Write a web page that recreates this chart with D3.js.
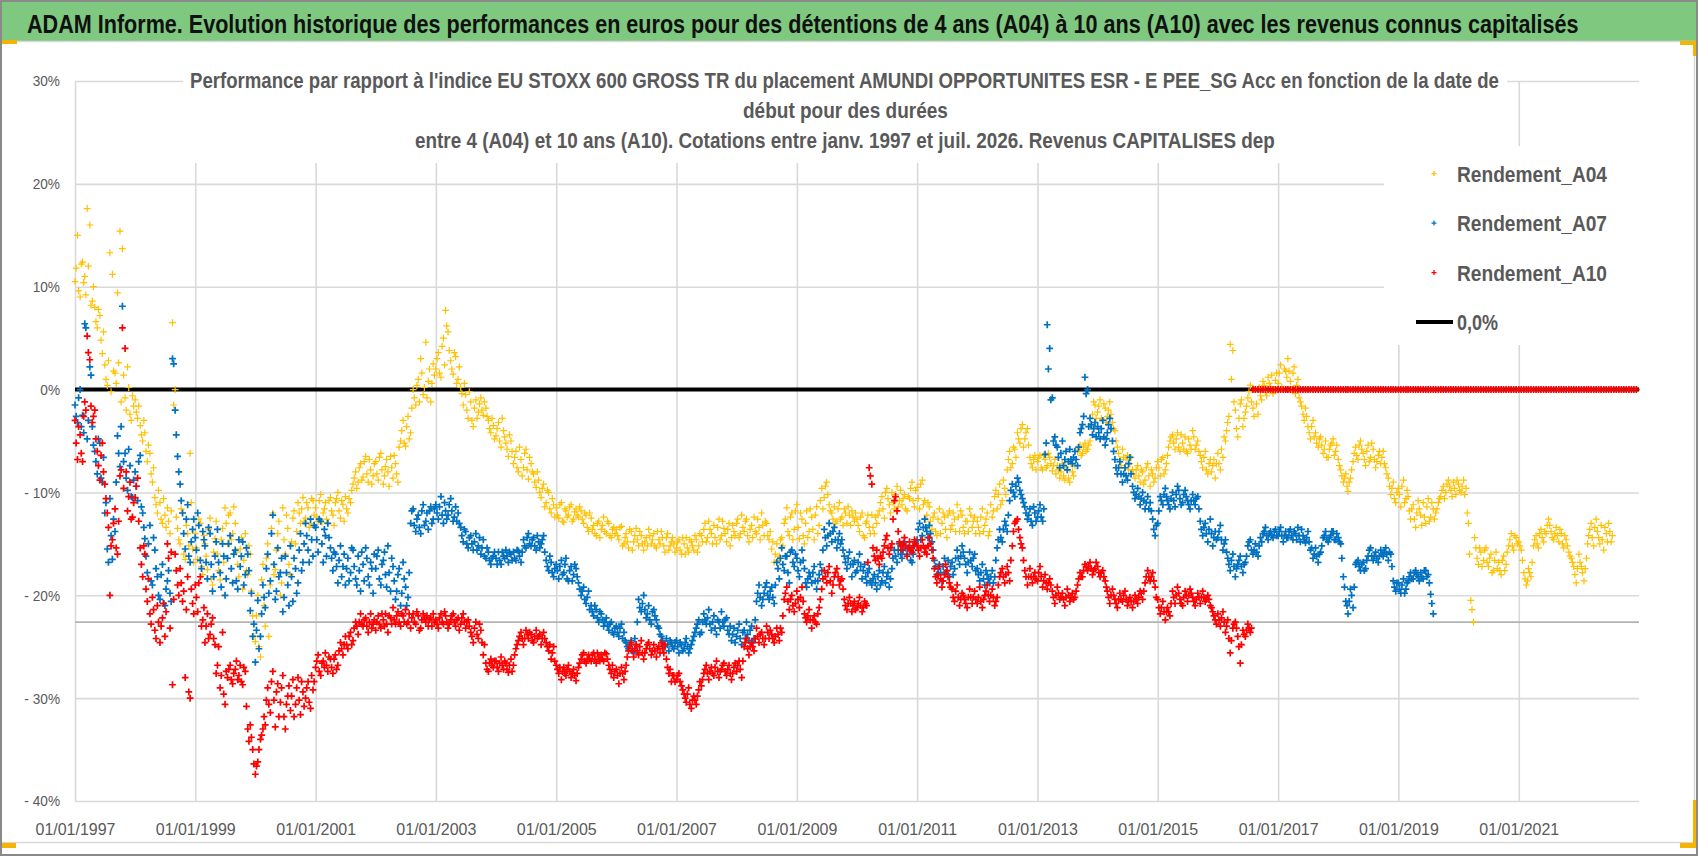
<!DOCTYPE html>
<html lang="fr">
<head>
<meta charset="utf-8">
<title>ADAM Informe</title>
<script src="https://cdn.jsdelivr.net/npm/d3@7"></script>
<style>
  html, body { margin: 0; padding: 0; background: #fff; }
  svg { display: block; }
  text { font-family: "Liberation Sans", Arial, sans-serif; }
</style>
</head>
<body>
<div id="graphique"></div>
<script>
// performances relatives (%), relevées sur le graphique depuis le 01/01/1997
// tableaux "..." : points du 1er et du 16 de chaque mois ; "...Milieu" : points du 8 et du 23
var rendementA04 = [
    10.5, 15.0, 9.0, 12.4, 11.0, 17.6, 16.0, 8.6, 8.0, 6.0, 7.2, 3.5, 2.4, 0.4, 13.3, 11.2, 1.6, 9.4, 15.4, 13.7, -0.8, 2.2, -2.4, -0.6,
    -1.0, -2.8, -3.5, -5.0, -4.2, -7.0, -6.2, -9.0, -10.5, -12.0, -11.0, -13.0, -12.2, -11.5, -14.0, 6.5, 0.0, -13.5, -15.0, -12.0, -16.5, -14.0, -6.2, -15.5,
    -14.0, -16.5, -13.0, -18.0, -15.0, -17.5, -12.5, -19.0, -14.5, -16.0, -18.5, -13.5, -11.5, -15.0, -12.0, -14.0, -13.0, -17.0, -15.5, -19.4, -14.0, -18.0, -16.0, -22.0,
    -24.5, -20.0, -26.0, -17.0, -23.0, -15.0, -19.0, -12.0, -17.5, -14.0, -20.0, -11.5, -16.0, -13.5, -18.0, -12.5, -15.0, -11.0, -13.0, -10.5, -12.5, -11.5, -13.0, -10.8,
    -11.5, -12.8, -10.2, -12.0, -11.0, -13.0, -10.5, -12.2, -11.0, -10.0, -12.5, -11.2, -10.4, -12.0, -11.0, -9.2, -8.0, -9.0, -7.2, -8.5, -6.5, -9.0, -7.8, -8.4,
    -7.0, -8.8, -6.2, -9.2, -7.5, -8.0, -6.5, -8.6, -7.2, -9.0, -5.0, -3.0, -5.5, -2.6, -4.2, 0.0, -1.5, 1.0, 3.0, -0.5, 4.6, 0.8, -1.2, 2.5,
    2.0, 3.6, 1.2, 5.0, 7.7, 5.6, 2.8, 1.5, 3.2, 1.0, 0.2, -1.5, -0.5, -2.8, -1.2, -3.6, -1.0, -2.2, -0.8, -2.5, -1.8, -3.0, -4.2, -3.5,
    -4.5, -3.2, -5.6, -4.0, -5.2, -6.5, -5.0, -7.2, -6.0, -8.0, -6.8, -7.6, -5.8, -8.7, -7.2, -8.2, -9.5, -8.8, -10.5, -9.2, -11.0, -10.0, -12.0, -11.2,
    -11.5, -12.5, -11.0, -12.9, -11.8, -12.2, -11.2, -12.6, -11.6, -12.4, -11.8, -13.0, -12.2, -13.8, -12.5, -13.2, -14.2, -12.8, -13.6, -12.4, -14.0, -13.0, -14.4, -13.4,
    -13.6, -14.6, -13.3, -15.0, -14.0, -15.4, -13.8, -14.8, -13.5, -15.2, -14.2, -15.6, -14.4, -13.6, -15.0, -14.0, -15.4, -14.6, -13.8, -15.2, -14.4, -15.6, -14.8, -15.0,
    -15.4, -14.6, -16.0, -15.0, -14.4, -15.8, -14.8, -15.6, -14.6, -15.2, -14.2, -13.6, -14.8, -12.8, -14.0, -13.2, -15.0, -12.6, -14.2, -13.5, -14.8, -13.0, -14.4, -13.8,
    -13.0, -14.4, -12.2, -13.8, -12.6, -14.8, -13.2, -12.4, -14.0, -13.4, -12.0, -14.2, -13.0, -14.6, -15.5, -16.8, -15.0, -16.2, -14.4, -13.0, -11.5, -14.2, -12.0, -13.6,
    -11.2, -14.5, -12.6, -15.0, -11.8, -13.8, -12.4, -14.6, -11.4, -13.2, -9.6, -10.5, -9.0, -11.2, -12.0, -11.4, -12.8, -11.0, -12.4, -11.6, -13.0, -12.2, -11.8, -12.8,
    -12.6, -13.8, -12.0, -14.4, -12.8, -13.4, -12.2, -14.0, -13.0, -11.8, -10.4, -12.5, -9.6, -11.2, -10.0, -11.6, -9.4, -10.8, -11.2, -10.2, -11.8, -10.6, -9.0, -11.4,
    -9.5, -11.6, -8.8, -10.8, -12.2, -11.4, -13.6, -12.0, -14.2, -11.6, -13.0, -12.4, -14.4, -11.8, -13.2, -12.6, -11.2, -13.8, -12.2, -14.0, -12.8, -11.6, -13.4, -12.4,
    -12.8, -14.0, -11.6, -13.2, -12.0, -13.8, -12.4, -10.4, -11.6, -9.2, -10.8, -9.6, -7.8, -6.0, -7.2, -5.8, -4.2, -5.2, -3.4, -4.8, -3.8, -6.6, -7.6, -6.4,
    -7.0, -6.4, -7.8, -6.8, -7.4, -6.6, -7.9, -6.8, -7.4, -8.6, -7.2, -8.8, -7.8, -9.0, -8.0, -7.4, -6.0, -5.4, -6.2, -5.2, -5.8, -5.0, -2.4, -1.5,
    -2.2, -1.0, -3.0, -1.8, -2.6, -1.2, -3.2, -4.0, -5.6, -6.8, -5.8, -7.6, -6.4, -7.2, -7.8, -8.6, -7.4, -9.0, -8.0, -8.8, -7.2, -9.4, -8.2, -8.6,
    -7.0, -8.4, -6.6, -7.8, -6.4, -5.0, -4.4, -5.8, -4.2, -6.0, -5.2, -4.6, -6.2, -5.4, -4.0, -5.8, -5.0, -6.4, -7.6, -6.0, -8.2, -6.8, -7.4, -8.6,
    -6.2, -7.8, -6.6, -5.0, -3.2, 4.4, 3.8, -2.0, -4.6, -1.4, -3.6, -2.2, -0.8, 0.4, -1.8, 0.0, -2.4, -0.6, 0.8, -0.2, 1.2, 0.2, -0.4, 0.9,
    0.6, 2.4, 0.0, 1.8, 3.0, 0.8, 1.6, -0.4, 1.0, -1.2, -2.4, -1.8, -3.6, -4.8, -3.0, -4.2, -5.6, -4.6, -6.2, -5.0, -6.6, -5.4, -4.8, -6.0,
    -6.8, -7.8, -9.0, -8.2, -9.9, -8.6, -7.0, -5.6, -6.8, -5.0, -6.2, -7.4, -5.4, -6.6, -5.8, -7.6, -6.4, -7.2, -6.0, -7.6, -8.6, -10.2, -9.0, -11.0,
    -9.6, -11.4, -8.8, -10.6, -10.4, -12.6, -11.2, -13.4, -10.8, -12.2, -11.0, -13.0, -10.6, -12.4, -11.6, -12.0, -11.0, -10.4, -9.4, -10.0, -8.8, -9.8, -9.0, -10.2,
    -9.2, -10.0, -8.8, -9.6, -13.0, -20.5, -22.6, -15.4, -17.0, -15.8, -16.6, -15.4, -17.2, -16.0, -17.6, -15.8, -16.8, -18.0, -16.2, -17.0, -15.2, -14.0, -15.6, -14.4,
    -14.8, -15.6, -17.8, -19.0, -17.4, -18.2, -15.2, -14.2, -15.4, -13.6, -14.8, -14.0, -12.6, -13.8, -14.6, -13.4, -14.8, -14.0, -15.4, -14.6, -15.8, -16.4, -17.2, -18.8,
    -16.0, -17.2, -18.6, -16.4, -14.2, -13.0, -15.2, -12.6, -14.4, -13.2, -15.6, -14.0, -13.0, -14.8
]
var rendementA04Milieu = [
    11.8, 9.6, 12.2, 10.4, 9.2, 12.0, 8.2, 10.0, 6.6, 7.8, 4.8, 5.6, 1.0, 2.8, -0.2, 1.8, 0.6, 2.6, -1.2, 1.4, -2.0, 0.2, -3.0, -1.6,
    -2.2, -1.6, -4.4, -3.0, -6.0, -5.4, -8.2, -7.6, -11.2, -9.8, -12.6, -10.6, -13.4, -12.8, -11.8, -1.5, -12.4, -14.6, -11.6, -16.0, -13.2, -15.2, -11.0, -16.8,
    -15.4, -12.6, -17.2, -14.2, -16.2, -13.6, -18.4, -15.8, -12.8, -17.6, -14.6, -16.8, -13.0, -12.2, -14.6, -11.4, -15.8, -18.2, -14.4, -16.6, -17.6, -15.2, -19.6, -24.0,
    -22.0, -25.0, -18.5, -21.0, -16.4, -24.0, -13.5, -18.0, -15.6, -12.8, -18.8, -14.6, -12.2, -17.0, -14.8, -11.8, -13.8, -12.0, -11.6, -12.8, -11.0, -13.4, -10.6, -12.2,
    -12.4, -10.8, -12.9, -11.6, -12.6, -10.8, -11.8, -13.2, -10.6, -11.8, -10.8, -12.8, -11.6, -10.6, -9.8, -8.6, -9.6, -7.6, -8.8, -7.0, -8.2, -6.8, -9.2, -7.2,
    -8.2, -6.6, -7.8, -8.4, -6.8, -9.4, -7.6, -6.4, -8.2, -5.6, -4.0, -5.2, -3.6, -4.8, -1.8, -0.8, 0.4, -1.2, 1.6, 0.2, -0.8, 2.0, 0.6, 1.4,
    3.0, 1.6, 4.2, 2.4, 6.2, 3.8, 2.0, 3.6, 0.6, 2.2, -0.4, 0.6, -2.0, -0.2, -3.0, -1.8, -2.8, -1.4, -2.0, -1.2, -2.6, -3.8, -2.8, -4.8,
    -3.8, -5.0, -2.8, -4.6, -5.8, -4.4, -6.0, -6.6, -7.6, -5.6, -8.4, -6.2, -7.8, -6.6, -8.0, -9.0, -8.0, -10.0, -9.6, -11.4, -9.8, -11.6, -10.6, -12.4,
    -12.2, -11.2, -12.8, -11.6, -12.4, -11.4, -12.8, -11.9, -12.2, -11.4, -12.6, -12.0, -13.4, -12.0, -13.6, -14.0, -13.0, -14.4, -13.2, -13.8, -12.8, -14.2, -13.6, -14.0,
    -14.2, -13.4, -15.2, -14.4, -14.8, -13.6, -15.6, -14.2, -14.6, -13.8, -15.0, -14.8, -15.2, -14.2, -14.6, -15.2, -13.8, -15.0, -14.4, -15.8, -14.0, -15.2, -14.4, -15.8,
    -14.8, -15.6, -14.4, -16.0, -15.4, -14.6, -15.2, -14.2, -15.8, -14.0, -14.8, -13.0, -14.4, -13.6, -15.0, -14.4, -13.4, -14.6, -12.8, -14.0, -13.6, -15.2, -13.2, -14.2,
    -12.6, -14.0, -13.4, -12.8, -14.2, -13.6, -14.4, -13.8, -12.6, -14.6, -13.2, -12.8, -14.2, -13.8, -14.8, -16.0, -16.6, -14.6, -15.2, -12.6, -13.8, -12.4, -14.6, -11.8,
    -13.4, -12.0, -14.2, -13.0, -14.4, -11.6, -13.6, -12.2, -14.0, -10.8, -11.6, -9.4, -10.2, -11.8, -12.6, -13.0, -11.6, -12.6, -13.2, -12.0, -11.4, -13.2, -12.4, -12.0,
    -13.2, -12.4, -14.2, -13.0, -12.2, -14.0, -13.4, -12.4, -12.2, -11.0, -11.6, -10.0, -10.6, -12.0, -11.0, -10.2, -11.4, -9.8, -10.6, -11.6, -10.4, -9.6, -10.8, -9.8,
    -10.6, -9.2, -11.2, -12.6, -11.0, -12.8, -12.4, -13.8, -12.6, -14.0, -12.0, -13.6, -12.2, -13.6, -12.0, -13.8, -12.4, -11.8, -13.4, -12.8, -13.8, -12.2, -12.8, -14.0,
    -13.4, -12.4, -13.8, -12.6, -14.2, -11.2, -11.8, -9.8, -10.2, -11.2, -8.8, -10.2, -6.8, -7.6, -5.6, -6.6, -4.8, -3.8, -5.6, -4.2, -5.4, -7.2, -6.8, -7.8,
    -6.6, -7.6, -6.4, -7.6, -6.2, -7.2, -7.4, -8.2, -7.8, -8.0, -8.4, -7.6, -8.6, -7.2, -8.4, -6.8, -5.8, -6.4, -5.6, -6.0, -5.4, -3.6, -1.2, -2.8,
    -1.6, -2.8, -1.4, -3.2, -2.0, -2.4, -3.8, -5.0, -6.2, -7.4, -6.6, -6.8, -7.8, -6.6, -8.2, -7.8, -8.4, -7.8, -9.2, -7.6, -8.4, -7.8, -9.0, -7.6,
    -7.6, -6.8, -8.2, -7.2, -5.6, -4.6, -5.2, -4.8, -5.6, -4.4, -5.8, -6.0, -4.8, -5.8, -4.6, -5.4, -6.0, -7.0, -6.6, -7.8, -7.2, -8.0, -6.8, -7.2,
    -7.2, -5.8, -4.6, -4.0, -2.6, 1.0, -1.2, -3.8, -2.8, -1.0, -2.8, -1.6, -0.2, -1.2, -2.6, -1.4, 0.2, -1.0, 0.4, -0.6, 0.6, 1.4, 0.0, 1.6,
    1.6, 0.2, 2.0, 1.2, 1.8, 0.0, 2.2, 0.4, -0.8, -1.6, -3.0, -2.6, -4.2, -3.6, -4.6, -5.2, -4.8, -5.4, -5.8, -6.6, -5.8, -5.2, -6.4, -5.4,
    -7.4, -8.4, -8.6, -9.4, -9.0, -7.8, -6.2, -6.4, -5.4, -5.8, -6.8, -6.0, -7.0, -5.2, -6.8, -7.0, -6.0, -6.6, -7.2, -8.2, -9.4, -9.6, -10.6, -10.0,
    -10.2, -9.4, -11.0, -9.8, -11.8, -11.6, -12.6, -12.0, -11.6, -13.2, -12.4, -11.4, -12.8, -11.0, -12.6, -11.6, -10.6, -9.8, -10.6, -9.2, -9.4, -10.4, -9.6, -8.8,
    -9.8, -9.4, -10.2, -12.0, -16.0, -21.4, -14.4, -16.4, -15.4, -17.2, -15.6, -16.8, -16.4, -17.8, -16.6, -17.4, -17.6, -16.6, -17.6, -15.8, -14.6, -15.2, -14.2, -15.0,
    -15.2, -16.6, -18.4, -18.6, -17.8, -16.8, -14.6, -15.0, -14.0, -14.4, -13.8, -13.2, -13.2, -14.4, -14.0, -14.2, -13.6, -15.0, -14.2, -15.2, -16.2, -16.8, -18.0, -17.4,
    -16.8, -17.8, -17.4, -15.0, -13.6, -14.4, -13.4, -13.8, -15.0, -14.6, -13.4, -14.8, -13.8, -14.2
]

var rendementA07 = [
    -1.5, -3.2, 0.0, -2.5, 6.4, -4.8, 2.2, -3.6, -6.0, -8.2, -5.2, -9.0, -12.0, -15.5, -10.6, -16.5, -13.8, -4.5, -7.5, 8.1, -6.2, -9.8, -7.4, -10.5,
    -8.0, -10.8, -6.4, -12.0, -14.5, -17.8, -13.2, -19.0, -15.6, -18.2, -20.4, -17.0, -21.0, -18.6, -19.8, 3.0, -2.0, -6.5, -9.2, -12.0, -15.5, -11.2, -16.8, -13.6,
    -14.4, -12.0, -16.6, -13.8, -15.2, -18.4, -14.0, -19.6, -16.2, -13.6, -17.8, -15.0, -20.0, -16.4, -14.2, -18.8, -15.6, -19.4, -17.2, -14.8, -18.0, -16.0, -21.5, -24.0,
    -26.5, -20.5, -24.0, -19.0, -21.2, -16.0, -18.6, -12.2, -20.4, -15.4, -17.8, -21.6, -16.2, -19.0, -15.2, -20.6, -17.4, -18.8, -14.0, -16.8, -13.0, -15.6, -12.6, -16.2,
    -13.4, -15.8, -12.8, -16.8, -14.2, -13.0, -15.4, -17.6, -16.0, -18.8, -15.2, -17.2, -19.0, -16.4, -17.8, -15.6, -18.4, -16.2, -19.6, -17.0, -15.4, -18.2, -16.8, -19.8,
    -17.4, -15.6, -19.0, -16.6, -18.0, -15.2, -19.6, -17.2, -20.4, -18.0, -21.0, -16.8, -19.2, -20.2, -13.0, -11.6, -13.8, -12.2, -14.0, -11.2, -12.8, -13.6, -11.4, -12.6,
    -11.2, -12.6, -10.4, -13.0, -11.8, -12.2, -10.6, -12.8, -11.4, -12.0, -13.4, -14.8, -13.8, -15.4, -14.2, -15.6, -14.0, -15.2, -16.0, -14.6, -16.4, -15.8, -17.0, -16.2,
    -16.4, -15.8, -17.0, -16.2, -15.6, -16.8, -16.0, -15.8, -16.6, -15.7, -16.8, -14.6, -15.4, -14.0, -15.2, -14.4, -15.6, -14.8, -15.0, -14.2, -16.6, -17.6, -16.8, -18.2,
    -17.0, -18.4, -16.6, -17.8, -16.4, -18.6, -17.2, -18.0, -17.4, -18.8, -20.0, -19.2, -20.8, -19.6, -21.0, -22.0, -21.4, -22.6, -21.8, -23.0, -22.2, -23.4, -22.6, -23.8,
    -23.0, -24.0, -22.8, -23.6, -24.6, -25.2, -24.4, -25.6, -24.8, -20.4, -21.6, -20.0, -22.2, -21.0, -22.8, -21.4, -22.4, -23.2, -24.0, -24.8, -24.2, -25.4, -24.6, -25.2,
    -24.4, -25.6, -24.8, -25.2, -24.2, -25.6, -24.8, -24.0, -23.2, -22.4, -23.6, -21.8, -22.8, -21.4, -23.4, -22.0, -23.8, -22.6, -21.6, -23.0, -22.2, -23.8, -24.4, -23.2,
    -24.0, -22.8, -24.8, -23.4, -22.6, -24.4, -23.0, -24.2, -20.6, -19.0, -21.0, -19.8, -18.8, -20.4, -19.2, -20.8, -16.8, -18.4, -15.4, -17.6, -16.2, -18.8, -15.6, -17.2,
    -16.4, -18.2, -15.6, -17.4, -19.2, -17.8, -18.8, -17.2, -19.4, -18.0, -17.6, -13.6, -15.2, -13.0, -14.8, -13.4, -15.4, -14.0, -14.6, -16.2, -17.4, -15.8, -18.2, -16.6,
    -17.6, -16.0, -18.4, -17.0, -18.8, -17.4, -19.0, -18.0, -19.4, -17.6, -18.6, -17.2, -18.2, -19.2, -17.4, -15.6, -16.8, -15.0, -16.4, -14.8, -16.0, -15.4, -16.8, -15.2,
    -14.6, -13.0, -14.2, -12.6, -13.8, -13.2, -14.8, -16.6, -18.0, -17.0, -18.6, -16.4, -17.6, -18.2, -16.8, -17.4, -15.6, -17.0, -15.2, -16.4, -17.8, -15.8, -17.2, -16.0,
    -17.4, -18.6, -17.0, -19.0, -18.0, -18.8, -17.6, -18.2, -15.4, -13.6, -14.8, -12.8, -13.8, -10.8, -9.2, -10.4, -8.6, -9.8, -10.6, -11.4, -12.6, -11.6, -13.2, -12.0,
    -12.4, -11.2, -12.8, -6.3, 6.3, 4.0, -0.8, -4.6, -5.6, -7.6, -5.0, -6.8, -7.8, -5.8, -7.2, -6.0, -7.4, -4.2, -3.4, 1.2, 0.0, -2.8, -4.4, -3.2,
    -3.6, -4.8, -3.0, -5.4, -4.2, -2.8, -5.0, -6.8, -8.2, -7.0, -9.0, -7.6, -8.8, -6.6, -9.4, -10.6, -9.6, -11.2, -10.0, -11.6, -10.4, -11.0, -12.6, -14.2,
    -13.0, -10.4, -11.2, -9.6, -10.8, -11.6, -10.0, -11.4, -9.4, -10.6, -11.0, -9.8, -10.8, -11.6, -10.2, -11.2, -10.4, -12.8, -14.2, -13.0, -14.8, -12.6, -15.2, -13.8,
    -14.4, -13.2, -15.6, -14.6, -16.4, -17.6, -16.0, -18.2, -17.0, -16.2, -17.8, -16.8, -15.2, -14.6, -16.0, -15.0, -16.2, -14.4, -14.0, -13.4, -14.6, -13.8, -14.4, -13.6,
    -14.2, -13.4, -14.8, -13.8, -14.4, -13.6, -14.6, -14.0, -13.4, -14.8, -14.2, -14.9, -13.8, -15.6, -16.4, -15.4, -16.8, -15.8, -14.4, -13.8, -14.8, -14.2, -13.8, -14.6,
    -14.4, -15.0, -18.2, -20.6, -21.8, -19.4, -21.2, -17.0, -16.6, -17.6, -16.8, -17.4, -16.2, -15.4, -16.6, -15.8, -16.8, -15.6, -16.2, -15.4, -16.6, -16.0, -18.6, -19.6,
    -18.8, -19.8, -18.4, -19.4, -18.6, -17.8, -18.4, -17.6, -18.2, -17.8, -18.4, -17.6, -18.0, -19.9, -21.8
]
var rendementA07Milieu = [
    -2.6, -0.8, -3.6, -4.2, 6.0, -3.0, 1.4, -5.4, -7.0, -4.8, -8.6, -6.6, -11.0, -16.8, -14.2, -12.6, -9.0, -6.2, -3.6, -7.0, -8.6, -5.8, -10.4, -8.8,
    -9.4, -7.0, -11.4, -13.4, -16.2, -15.0, -18.6, -14.4, -17.4, -20.0, -18.0, -20.8, -19.4, -17.6, -20.6, 2.5, -4.4, -8.0, -10.8, -14.0, -12.6, -16.2, -14.8, -12.6,
    -15.6, -13.2, -17.4, -14.6, -16.8, -13.4, -17.0, -18.2, -14.8, -16.8, -19.2, -16.2, -18.4, -15.0, -17.4, -16.0, -18.6, -14.6, -16.2, -19.0, -15.4, -17.6, -19.8, -22.8,
    -23.4, -25.2, -21.8, -20.2, -17.4, -19.8, -14.0, -17.0, -19.6, -18.2, -16.4, -20.2, -17.8, -21.0, -18.2, -16.4, -19.8, -15.6, -17.6, -15.0, -14.2, -16.8, -14.6, -13.2,
    -14.6, -12.6, -15.0, -13.6, -16.2, -14.4, -16.4, -15.8, -17.2, -16.6, -18.2, -16.0, -17.4, -18.6, -15.4, -17.2, -19.0, -17.6, -15.8, -18.6, -16.4, -19.0, -17.4, -16.0,
    -16.2, -18.4, -17.0, -15.8, -19.2, -17.8, -16.4, -18.6, -19.6, -17.4, -19.8, -18.4, -21.0, -17.8, -11.8, -13.2, -12.6, -13.4, -11.8, -13.2, -12.0, -11.8, -13.0, -11.6,
    -12.0, -11.4, -12.2, -11.0, -12.6, -11.2, -11.8, -12.4, -12.8, -13.0, -14.2, -13.6, -15.0, -14.4, -15.0, -14.8, -15.6, -14.4, -15.4, -16.2, -15.4, -16.6, -16.4, -15.8,
    -17.0, -16.6, -15.8, -16.4, -16.2, -15.8, -16.6, -16.4, -15.6, -16.2, -15.8, -15.2, -14.4, -15.0, -14.6, -15.2, -14.2, -15.4, -14.6, -15.8, -17.2, -16.2, -17.8, -17.4,
    -17.6, -17.2, -18.0, -17.0, -18.4, -17.6, -18.6, -17.0, -18.2, -19.4, -19.6, -20.4, -20.2, -21.4, -21.6, -21.0, -22.2, -21.6, -22.4, -22.6, -23.0, -22.8, -23.6, -23.2,
    -23.6, -23.2, -24.2, -24.4, -25.0, -24.8, -25.4, -24.2, -22.6, -21.2, -20.8, -21.4, -21.8, -22.4, -21.6, -22.0, -23.0, -23.8, -24.4, -25.0, -24.8, -24.4, -25.0, -24.6,
    -25.0, -24.6, -25.4, -24.6, -25.0, -25.2, -24.4, -23.6, -22.8, -23.8, -22.6, -22.4, -22.2, -22.8, -22.6, -23.2, -22.4, -23.2, -22.6, -22.4, -23.4, -23.0, -23.8, -24.6,
    -23.4, -24.2, -23.6, -24.2, -23.8, -23.4, -24.6, -22.4, -19.8, -20.2, -20.4, -19.2, -20.0, -19.6, -20.2, -19.0, -17.4, -16.4, -17.0, -16.2, -17.8, -15.8, -16.8, -16.0,
    -17.6, -16.8, -16.6, -18.8, -18.4, -18.2, -17.8, -18.6, -18.6, -17.0, -15.6, -14.4, -14.2, -14.0, -13.8, -14.6, -14.6, -15.0, -15.6, -16.8, -16.4, -17.0, -17.0, -17.8,
    -16.8, -17.2, -17.6, -18.2, -17.8, -18.6, -18.4, -18.8, -18.2, -19.0, -17.8, -18.8, -17.8, -18.4, -16.4, -16.2, -15.6, -16.0, -15.6, -15.4, -15.4, -16.6, -16.0, -14.8,
    -13.6, -14.6, -13.4, -13.4, -14.4, -14.0, -15.6, -17.2, -17.4, -17.8, -17.2, -17.8, -16.6, -17.2, -18.0, -16.4, -16.4, -16.2, -15.8, -17.0, -16.8, -16.6, -16.4, -17.6,
    -18.0, -17.8, -18.4, -17.6, -18.4, -18.2, -18.8, -16.6, -14.6, -14.4, -13.6, -13.2, -12.2, -9.8, -10.0, -9.4, -9.0, -10.2, -11.0, -12.0, -12.2, -12.8, -11.4, -12.8,
    -11.8, -12.4, -11.6, -5.2, 2.0, -1.0, -5.0, -5.4, -6.6, -6.2, -7.4, -6.0, -7.0, -6.8, -6.6, -6.8, -5.6, -3.8, -2.6, -0.4, -3.6, -3.4, -3.8, -4.6,
    -4.2, -3.8, -4.6, -4.8, -3.4, -3.8, -6.0, -7.6, -7.6, -8.2, -8.2, -8.4, -7.2, -8.2, -10.0, -10.2, -10.4, -10.6, -10.8, -11.0, -11.6, -11.8, -13.6, -13.2,
    -11.8, -10.8, -10.2, -10.4, -11.2, -10.6, -10.8, -10.2, -9.8, -11.2, -10.2, -10.4, -11.2, -10.8, -10.8, -10.6, -11.6, -13.6, -13.4, -14.0, -13.6, -14.0, -14.4, -14.6,
    -13.8, -14.6, -15.0, -15.8, -17.0, -16.6, -17.2, -17.4, -16.6, -17.2, -17.0, -16.2, -14.8, -15.6, -15.6, -15.8, -15.2, -14.8, -13.8, -14.2, -14.0, -14.2, -13.8, -14.2,
    -13.8, -14.2, -14.2, -14.4, -13.8, -14.2, -13.8, -14.6, -14.2, -13.6, -14.6, -14.4, -14.8, -15.4, -16.0, -16.2, -16.0, -15.2, -14.2, -14.6, -14.4, -13.8, -14.6, -14.0,
    -14.8, -16.4, -19.2, -21.0, -20.6, -20.0, -19.2, -16.8, -17.2, -17.0, -17.6, -16.6, -15.6, -16.2, -16.2, -16.4, -16.2, -16.0, -15.8, -16.0, -15.8, -17.2, -19.2, -18.8,
    -19.4, -19.0, -19.8, -18.8, -18.2, -18.4, -17.8, -18.0, -18.6, -18.2, -17.6, -18.2, -18.8, -20.8
]

var rendementA10 = [
    -3.0, -6.8, -4.4, -7.0, -1.2, 5.2, 2.9, -3.2, -2.0, -6.0, -8.8, -5.2, -9.2, -12.0, -20.0, -14.6, -11.6, -16.0, -8.4, 6.0, 4.0, -11.8, -9.0, -12.4,
    -10.5, -8.6, -15.4, -18.2, -16.0, -20.6, -21.8, -20.2, -23.4, -21.0, -24.6, -22.2, -24.0, -15.0, -23.2, -28.7, -16.0, -19.0, -17.4, -20.6, -28.0, -18.2, -30.0, -20.8,
    -19.0, -21.6, -18.2, -22.4, -24.6, -21.8, -23.8, -22.2, -24.8, -26.8, -29.0, -23.6, -30.6, -28.0, -26.8, -28.6, -27.2, -28.2, -26.8, -28.7, -27.4, -33.0, -32.6, -35.0,
    -37.4, -36.2, -34.0, -33.0, -32.6, -29.0, -31.4, -27.4, -32.8, -28.6, -30.4, -27.8, -33.0, -29.8, -31.2, -28.2, -30.6, -28.0, -31.6, -29.4, -30.0, -28.4, -31.0, -29.2,
    -27.0, -25.8, -27.8, -26.4, -25.6, -27.4, -26.2, -27.6, -25.8, -26.8, -24.6, -25.8, -24.0, -25.2, -23.6, -24.4, -22.6, -23.8, -21.8, -23.0, -22.2, -23.6, -21.8, -22.8,
    -23.4, -22.0, -23.2, -22.4, -21.8, -23.6, -22.2, -21.2, -22.8, -21.6, -23.0, -22.0, -21.4, -22.6, -23.2, -21.8, -22.8, -22.0, -23.2, -21.8, -22.6, -23.0, -22.2, -21.8,
    -22.4, -23.2, -21.8, -22.8, -22.0, -23.2, -22.4, -21.8, -23.0, -22.2, -22.8, -21.8, -23.2, -22.4, -23.6, -24.6, -22.6, -24.2, -23.4, -25.8, -26.6, -27.4, -26.2, -27.0,
    -26.4, -27.4, -26.0, -27.2, -26.6, -27.5, -26.2, -26.8, -25.2, -24.4, -23.6, -24.8, -23.4, -24.2, -23.8, -24.6, -23.4, -24.0, -24.8, -23.6, -24.6, -25.4, -26.2, -25.0,
    -26.8, -27.6, -28.2, -27.0, -27.8, -26.8, -28.0, -27.2, -28.3, -27.0, -26.2, -25.6, -26.6, -25.8, -26.4, -25.6, -26.6, -26.0, -25.8, -26.4, -25.7, -26.8, -27.6, -28.0,
    -27.2, -28.6, -27.0, -28.2, -26.8, -25.4, -24.6, -26.0, -24.8, -25.8, -24.4, -26.2, -25.2, -24.6, -25.8, -24.8, -26.0, -25.0, -24.6, -25.6, -26.2, -27.6, -28.4, -27.8,
    -28.2, -27.6, -28.8, -29.6, -30.4, -29.0, -31.0, -29.8, -30.6, -29.2, -28.8, -27.6, -26.8, -28.2, -27.0, -27.8, -26.4, -28.0, -27.2, -26.6, -27.8, -26.8, -28.2, -27.0,
    -27.4, -26.4, -28.0, -25.0, -24.2, -25.8, -24.6, -25.4, -23.2, -24.6, -23.6, -24.8, -23.0, -24.2, -23.8, -24.6, -23.2, -24.4, -23.6, -20.4, -19.2, -21.4, -20.0, -21.6,
    -19.6, -21.2, -19.2, -21.8, -22.6, -21.4, -23.2, -22.0, -22.8, -21.2, -19.4, -17.6, -18.8, -17.2, -19.8, -18.2, -17.4, -19.0, -18.4, -20.4, -21.4, -20.2, -21.6, -20.6,
    -21.2, -20.2, -21.6, -20.6, -21.0, -7.6, -9.2, -16.2, -15.6, -17.0, -16.4, -15.2, -14.2, -16.0, -15.0, -10.8, -11.8, -14.8, -15.6, -14.4, -16.2, -14.8, -15.8, -14.6,
    -15.2, -16.2, -14.6, -15.8, -16.0, -14.4, -15.6, -17.4, -18.8, -17.2, -19.2, -18.0, -17.6, -18.8, -19.4, -20.6, -19.0, -21.0, -19.8, -20.4, -21.2, -19.4, -20.8, -19.6,
    -20.8, -19.2, -21.2, -20.0, -19.0, -20.6, -19.4, -21.0, -20.2, -18.2, -17.4, -18.8, -17.2, -18.6, -15.2, -13.0, -12.6, -14.4, -15.4, -17.6, -19.0, -17.4, -18.8, -17.8,
    -18.6, -17.2, -19.2, -18.0, -19.4, -18.4, -19.6, -20.8, -19.2, -20.4, -19.8, -21.0, -19.4, -20.6, -19.8, -20.2, -19.0, -17.8, -18.2, -17.0, -17.6, -16.8, -18.0, -17.4,
    -17.2, -18.2, -17.6, -18.6, -19.6, -20.8, -19.4, -20.4, -21.2, -19.8, -20.6, -19.6, -21.0, -20.2, -21.2, -20.0, -20.8, -19.6, -20.4, -18.8, -17.6, -18.6, -17.8, -19.2,
    -20.4, -21.8, -20.6, -22.4, -21.2, -22.0, -19.6, -20.8, -19.2, -20.4, -21.0, -19.6, -20.6, -19.4, -20.2, -21.0, -19.8, -20.8, -19.6, -20.6, -20.0, -21.0, -21.6, -22.4,
    -21.8, -23.0, -21.6, -23.6, -22.4, -25.6, -23.2, -22.6, -24.0, -26.6, -23.4, -24.0, -22.8, -23.6, 0, 0, 0, 0, 0, 0, 0, 0, 0, 0,
    0, 0, 0, 0, 0, 0, 0, 0, 0, 0, 0, 0, 0, 0, 0, 0, 0, 0, 0, 0, 0, 0, 0, 0,
    0, 0, 0, 0, 0, 0, 0, 0, 0, 0, 0, 0, 0, 0, 0, 0, 0, 0, 0, 0, 0, 0, 0, 0,
    0, 0, 0, 0, 0, 0, 0, 0, 0, 0, 0, 0, 0, 0, 0, 0, 0, 0, 0, 0, 0, 0, 0, 0,
    0, 0, 0, 0, 0, 0, 0, 0, 0, 0, 0, 0, 0, 0, 0, 0, 0, 0, 0, 0, 0, 0, 0, 0,
    0, 0, 0, 0, 0, 0, 0, 0, 0, 0, 0, 0, 0, 0, 0, 0, 0, 0, 0, 0, 0, 0, 0, 0,
    0, 0, 0, 0, 0, 0, 0, 0, 0, 0, 0, 0, 0, 0, 0, 0, 0, 0, 0, 0, 0, 0, 0, 0
]
var rendementA10Milieu = [
    -5.2, -3.6, -6.2, -2.6, -2.0, 3.6, -1.6, -2.6, -4.8, -7.4, -6.4, -8.0, -10.6, -13.4, -15.2, -13.0, -15.4, -12.8, -7.8, -9.6, -8.0, -10.4, -12.6, -11.0,
    -9.4, -12.8, -17.0, -15.2, -19.4, -18.4, -22.8, -21.4, -24.2, -22.6, -23.0, -20.8, -21.6, -16.4, -15.8, -20.4, -17.6, -20.0, -18.8, -19.6, -21.4, -29.4, -19.4, -21.8,
    -20.2, -18.8, -23.0, -21.2, -23.0, -24.2, -22.8, -24.2, -27.6, -25.0, -27.8, -29.6, -27.4, -27.2, -28.2, -27.6, -26.4, -27.8, -28.4, -27.0, -30.8, -34.2, -33.8, -36.4,
    -36.6, -35.0, -33.6, -31.8, -30.2, -30.6, -28.4, -30.2, -29.4, -31.8, -29.0, -31.8, -30.6, -28.8, -29.8, -31.8, -29.0, -30.2, -28.4, -30.8, -29.0, -30.4, -27.8, -28.4,
    -26.4, -27.4, -26.6, -27.0, -26.8, -26.0, -27.0, -26.2, -27.2, -25.4, -25.2, -24.8, -24.8, -24.0, -24.8, -23.2, -23.0, -22.6, -22.8, -22.4, -23.0, -22.6, -23.2, -22.4,
    -22.6, -22.8, -21.8, -23.0, -22.8, -22.0, -22.8, -22.4, -22.0, -22.6, -21.8, -22.6, -22.8, -21.8, -22.2, -22.6, -21.6, -23.4, -22.4, -22.2, -22.0, -22.4, -23.0, -22.6,
    -22.8, -22.2, -22.6, -21.6, -22.6, -22.8, -22.0, -22.6, -22.4, -23.4, -22.2, -22.6, -22.6, -23.0, -24.0, -23.2, -23.8, -22.8, -24.6, -24.8, -27.2, -26.6, -26.8, -26.4,
    -27.0, -26.6, -26.8, -26.4, -27.2, -26.8, -27.4, -25.8, -24.8, -24.0, -24.2, -24.2, -23.8, -23.6, -24.4, -24.0, -24.2, -23.8, -24.2, -24.2, -25.0, -24.8, -25.6, -26.4,
    -27.2, -27.0, -27.4, -27.6, -27.2, -27.4, -27.6, -27.8, -27.6, -26.6, -25.8, -26.4, -26.2, -26.2, -25.8, -26.2, -25.6, -26.4, -26.2, -25.6, -26.2, -27.2, -26.8, -27.4,
    -27.8, -27.6, -27.6, -27.4, -26.0, -25.0, -25.4, -25.2, -25.4, -25.0, -25.6, -25.6, -24.8, -25.2, -25.4, -25.4, -25.2, -25.6, -25.2, -24.8, -27.0, -27.2, -27.8, -28.4,
    -27.8, -28.4, -29.2, -30.0, -29.6, -30.6, -30.2, -30.2, -29.8, -28.4, -28.2, -27.2, -27.6, -27.4, -27.6, -27.0, -27.4, -27.4, -26.8, -27.4, -27.2, -27.6, -27.6, -26.6,
    -26.8, -27.2, -26.4, -24.6, -25.2, -25.0, -25.0, -24.2, -24.0, -23.8, -24.2, -24.2, -23.6, -23.4, -24.2, -24.0, -23.8, -23.2, -22.0, -19.8, -20.6, -20.4, -21.0, -20.8,
    -20.4, -20.2, -20.6, -22.2, -22.0, -22.4, -22.4, -22.6, -21.8, -20.4, -18.4, -18.2, -17.8, -18.6, -19.0, -17.8, -18.2, -18.6, -19.4, -21.0, -20.8, -20.8, -21.0, -21.4,
    -20.8, -21.0, -21.2, -20.8, -16.8, -8.4, -15.4, -16.6, -16.4, -16.2, -15.8, -14.6, -15.4, -15.4, -12.6, -10.4, -13.8, -15.2, -15.0, -15.2, -15.4, -15.6, -15.2, -15.0,
    -15.6, -15.4, -15.2, -15.4, -15.2, -15.0, -16.4, -18.2, -18.0, -18.4, -18.6, -17.0, -18.2, -19.2, -20.2, -19.6, -20.2, -20.4, -20.0, -20.8, -20.2, -20.2, -20.2, -20.4,
    -20.2, -20.6, -20.4, -19.6, -20.0, -20.0, -20.2, -20.6, -19.0, -17.8, -18.2, -18.0, -17.8, -16.6, -13.8, -12.8, -13.6, -15.0, -16.6, -18.2, -18.2, -18.2, -18.2, -18.4,
    -17.8, -18.2, -18.6, -18.8, -18.8, -19.0, -20.2, -20.0, -19.8, -20.2, -20.4, -20.2, -20.0, -20.2, -20.4, -19.6, -18.4, -18.2, -17.6, -17.2, -17.2, -17.4, -17.6, -16.8,
    -17.8, -17.8, -18.2, -19.2, -20.2, -20.0, -20.0, -20.8, -20.4, -20.4, -20.0, -20.4, -20.6, -20.6, -20.6, -20.4, -20.2, -19.8, -19.6, -18.2, -18.2, -18.2, -18.6, -20.2,
    -21.2, -21.2, -21.6, -21.6, -21.6, -20.8, -20.2, -20.0, -19.8, -20.8, -20.2, -20.0, -20.0, -19.8, -20.6, -20.4, -20.2, -20.2, -20.2, -20.4, -20.4, -21.2, -22.0, -22.8,
    -22.4, -22.2, -22.6, -23.0, -24.2, -24.4, -22.8, -23.2, -25.0, -24.8, -23.8, -23.4, -23.2, -23.2
]

var ligneZeroDates = ["1997-01-01", "2023-01-01"]
var ligneZeroValeurs = [0, 0]
var ligneGrise = -22.6

var anneesTicks = [1997, 1999, 2001, 2003, 2005, 2007, 2009, 2011, 2013, 2015, 2017, 2019, 2021]
var pourcentTicks = [30, 20, 10, 0, -10, -20, -30, -40]

var titre = "ADAM Informe. Evolution historique des performances en euros pour des détentions de 4 ans (A04) à 10 ans (A10) avec les revenus connus capitalisés"
var sousTitre = [
    "Performance par rapport à l'indice EU STOXX 600 GROSS TR  du placement AMUNDI OPPORTUNITES ESR - E PEE_SG Acc en fonction de la date de",
    "début pour des durées",
    "entre 4 (A04) et 10 ans (A10). Cotations entre janv. 1997 et juil. 2026. Revenus CAPITALISES dep"
]
var nomsSeries = ["Rendement_A04", "Rendement_A07", "Rendement_A10", "0,0%"]
var couleurs = ["#FFC000", "#0070C0", "#FF0000", "#000000"]

var pointsParAn = 24
// jours du mois des deux relevés : [1, 16] pour le tableau principal, [8, 23] pour "Milieu"
function dateDuPoint(i, jours) {
    var an = 1997 + Math.floor(i / pointsParAn)
    var demiMois = i % pointsParAn
    return new Date(an, Math.floor(demiMois / 2), jours[demiMois % 2])
}

// compresse un texte comme la police étroite d'origine
function serrer(sel, facteur) {
    sel.each(function() {
        var w = this.getComputedTextLength()
        d3.select(this)
            .attr("textLength", w * facteur)
            .attr("lengthAdjust", "spacingAndGlyphs")
    })
}

// texte posé à (x, y) et mis à l'échelle horizontalement pour faire "largeurCible" px
function texteLarge(parent, x, y, largeurCible, contenu) {
    var g = parent.append("g")
        .attr("transform", "translate(" + x + "," + y + ")")
    var t = g.append("text").text(contenu)
    return { groupe: g, texte: t, cible: largeurCible }
}
function appliquerLargeur(obj) {
    var w = obj.texte.node().getComputedTextLength()
    obj.texte.attr("transform", "scale(" + (obj.cible / w) + ",1)")
}

var largeur = 1698, hauteur = 856
var gauche = 75, droite = 1639, haut = 81, bas = 801

var svg = d3.select("#graphique")
    .append("svg")
    .attr("width", largeur)
    .attr("height", hauteur)

svg.append("rect")
    .attr("width", largeur)
    .attr("height", hauteur)
    .attr("fill", "white")

var x = d3.scaleTime()
    .domain([new Date(1997, 0, 1), new Date(2023, 0, 1)])
    .range([gauche, droite])

var y = d3.scaleLinear()
    .domain([-40, 30])
    .range([bas, haut])

// bandeau vert
svg.append("rect")
    .attr("x", 1)
    .attr("y", 2)
    .attr("width", 1695)
    .attr("height", 39)
    .attr("fill", "#7ec87f")

var titreObj = texteLarge(svg, 27, 33, 1553, titre)
titreObj.texte
    .style("font-size", "26px")
    .style("font-weight", "bold")
    .attr("fill", "#111")
appliquerLargeur(titreObj)

// zone du graphique
svg.append("rect")
    .attr("x", 0.5)
    .attr("y", 41.5)
    .attr("width", 1694)
    .attr("height", 801)
    .attr("fill", "none")
    .attr("stroke", "#d9d9d9")
    .attr("stroke-width", 1.5)

// quadrillage
var grilleY = svg.append("g")
    .attr("transform", "translate(" + gauche + ",0)")
    .call(d3.axisLeft(y).tickValues(pourcentTicks).tickSize(-(droite - gauche)).tickFormat(""))
grilleY.select(".domain").remove()
grilleY.selectAll("line").attr("stroke", "#d9d9d9").attr("stroke-width", 1.6)

var grilleX = svg.append("g")
    .attr("transform", "translate(0," + bas + ")")
    .call(d3.axisBottom(x)
        .tickValues(anneesTicks.map(function(a) { return new Date(a, 0, 1) }))
        .tickSize(-(bas - haut))
        .tickFormat(""))
grilleX.select(".domain").remove()
grilleX.selectAll("line").attr("stroke", "#d9d9d9").attr("stroke-width", 1.6)

svg.append("line")
    .attr("x1", gauche)
    .attr("x2", droite)
    .attr("y1", y(ligneGrise))
    .attr("y2", y(ligneGrise))
    .attr("stroke", "#b4b4b4")
    .attr("stroke-width", 1.8)

// fonds blancs du titre et de la légende
svg.append("rect")
    .attr("x", 183)
    .attr("y", 60)
    .attr("width", 1324)
    .attr("height", 103)
    .attr("fill", "white")

svg.append("rect")
    .attr("x", 1384)
    .attr("y", 146)
    .attr("width", 262)
    .attr("height", 199)
    .attr("fill", "white")

// série 0,0%
svg.append("line")
    .attr("x1", x(new Date(ligneZeroDates[0])))
    .attr("x2", x(new Date(ligneZeroDates[1])))
    .attr("y1", y(ligneZeroValeurs[0]))
    .attr("y2", y(ligneZeroValeurs[1]))
    .attr("stroke", "black")
    .attr("stroke-width", 4)

var series = [
    { valeurs: rendementA04, milieu: rendementA04Milieu, couleur: couleurs[0], trait: 1.2 },
    { valeurs: rendementA07, milieu: rendementA07Milieu, couleur: couleurs[1], trait: 1.7 },
    { valeurs: rendementA10, milieu: rendementA10Milieu, couleur: couleurs[2], trait: 1.7 }
]

series.forEach(function(s) {
    var points = s.valeurs.map(function(v, i) {
        return { date: dateDuPoint(i, [1, 16]), valeur: v }
    }).concat(s.milieu.map(function(v, i) {
        return { date: dateDuPoint(i, [8, 23]), valeur: v }
    }))
    svg.append("g")
        .selectAll("path")
        .data(points)
        .enter().append("path")
        .attr("d", "M-3.4,0H3.4M0,-3.5V3.5")
        .attr("transform", function(d) {
            return "translate(" + x(d.date) + "," + y(d.valeur) + ")"
        })
        .attr("fill", "none")
        .attr("stroke", s.couleur)
        .attr("stroke-width", s.trait)
})

// titre du graphique
var positionsSousTitre = [[190, 88, 1310], [743, 118, 205], [415, 148, 860]]
sousTitre.forEach(function(ligne, i) {
    var p = positionsSousTitre[i]
    var obj = texteLarge(svg, p[0], p[1], p[2], ligne)
    obj.texte
        .style("font-size", "22px")
        .style("font-weight", "bold")
        .attr("fill", "#595959")
    appliquerLargeur(obj)
})

// axes
var axeY = svg.append("g")
    .attr("transform", "translate(" + gauche + ",0)")
    .call(d3.axisLeft(y)
        .tickValues(pourcentTicks)
        .tickSize(0)
        .tickPadding(15)
        .tickFormat(function(d) { return d < 0 ? "- " + Math.abs(d) + "%" : d + "%" }))
axeY.select(".domain").remove()
axeY.selectAll("text")
    .attr("fill", "#595959")
    .style("font-size", "15.5px")
    .style("font-family", "'Liberation Sans', Arial, sans-serif")
serrer(axeY.selectAll("text"), 0.88)

var axeX = svg.append("g")
    .attr("transform", "translate(0," + bas + ")")
    .call(d3.axisBottom(x)
        .tickValues(anneesTicks.map(function(a) { return new Date(a, 0, 1) }))
        .tickSize(0)
        .tickPadding(22)
        .tickFormat(d3.timeFormat("%d/%m/%Y")))
axeX.select(".domain").remove()
axeX.selectAll("text")
    .attr("fill", "#595959")
    .style("font-size", "17px")
    .style("font-family", "'Liberation Sans', Arial, sans-serif")
serrer(axeX.selectAll("text"), 0.94)

// légende
var legende = svg.selectAll(".legende")
    .data(nomsSeries)
    .enter().append("g")
    .attr("class", "legende")
    .attr("transform", function(d, i) {
        return "translate(1434," + (173.6 + i * 49.5) + ")"
    })

legende.filter(function(d, i) { return i < 3 })
    .append("path")
    .attr("d", "M-2.5,0H2.5M0,-2.5V2.5")
    .attr("fill", "none")
    .attr("stroke", function(d, i) { return couleurs[i] })
    .attr("stroke-width", 1.3)

legende.filter(function(d, i) { return i === 3 })
    .append("line")
    .attr("x1", -18)
    .attr("x2", 19)
    .attr("stroke", "black")
    .attr("stroke-width", 4)

legende.append("text")
    .attr("x", 23)
    .attr("y", 8)
    .attr("textLength", function(d, i) { return i < 3 ? 150 : 41 })
    .attr("lengthAdjust", "spacingAndGlyphs")
    .style("font-size", "22px")
    .style("font-weight", "bold")
    .attr("fill", "#595959")
    .text(function(d) { return d })

// poignées de sélection
var poignees = [[0, 40, 17, 4], [1680, 41, 17, 4], [1693, 41, 4, 15], [0, 843, 16, 5], [1680, 843, 18, 5], [1693, 800, 5, 48]]
svg.selectAll(".poignee")
    .data(poignees)
    .enter().append("rect")
    .attr("class", "poignee")
    .attr("x", function(d) { return d[0] })
    .attr("y", function(d) { return d[1] })
    .attr("width", function(d) { return d[2] })
    .attr("height", function(d) { return d[3] })
    .attr("fill", "#f5b400")

// bordure de l'image
svg.append("rect")
    .attr("x", 1)
    .attr("y", 1)
    .attr("width", largeur - 2)
    .attr("height", hauteur - 2)
    .attr("fill", "none")
    .attr("stroke", "#8a8a8a")
    .attr("stroke-width", 2)
</script>
</body>
</html>
